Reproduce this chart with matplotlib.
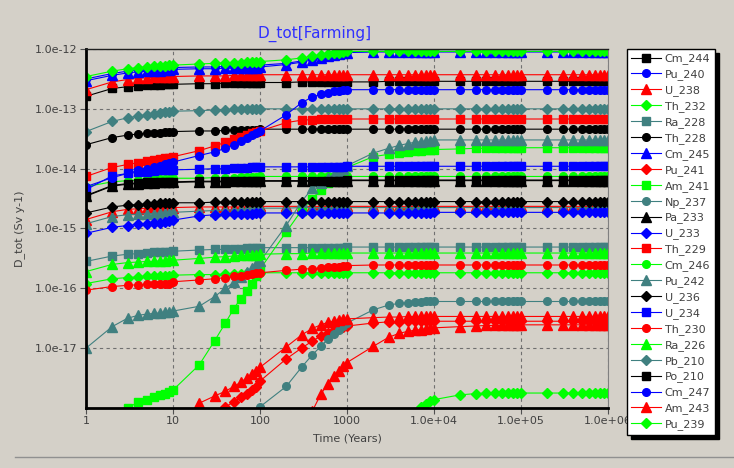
#D_tot[Farming] dose curves per nuclide vs time
import numpy as np
import matplotlib
matplotlib.use("Agg")
import matplotlib.pyplot as plt

# time grid (years), 9 points per decade
t_years = [1, 2, 3, 4, 5, 6, 7, 8, 9,
           10, 20, 30, 40, 50, 60, 70, 80, 90,
           100, 200, 300, 400, 500, 600, 700, 800, 900,
           1e3, 2e3, 3e3, 4e3, 5e3, 6e3, 7e3, 8e3, 9e3,
           1e4, 2e4, 3e4, 4e4, 5e4, 6e4, 7e4, 8e4, 9e4,
           1e5, 2e5, 3e5, 4e5, 5e5, 6e5, 7e5, 8e5, 9e5,
           1e6]

# log10 of D_tot (Sv/y)
cm_244 = [-12.79, -12.66, -12.63, -12.62, -12.61, -12.60, -12.60, -12.59, -12.59,
          -12.59, -12.58, -12.58, -12.57, -12.57, -12.57, -12.57, -12.56, -12.56,
          -12.56, -12.56, -12.55, -12.55, -12.55, -12.55, -12.55, -12.55, -12.55,
          -12.55, -12.55, -12.54, -12.54, -12.54, -12.54, -12.54, -12.54, -12.54,
          -12.54, -12.54, -12.54, -12.54, -12.54, -12.54, -12.54, -12.54, -12.54,
          -12.54, -12.54, -12.54, -12.54, -12.54, -12.54, -12.54, -12.54, -12.54,
          -12.54]
pu_240 = [-12.50, -12.41, -12.37, -12.35, -12.34, -12.33, -12.33, -12.32, -12.32,
          -12.31, -12.30, -12.30, -12.29, -12.29, -12.29, -12.28, -12.28, -12.28,
          -12.27, -12.24, -12.20, -12.16, -12.13, -12.11, -12.09, -12.07, -12.06,
          -12.05, -12.04, -12.04, -12.04, -12.04, -12.04, -12.04, -12.04, -12.04,
          -12.04, -12.04, -12.04, -12.04, -12.04, -12.04, -12.04, -12.04, -12.04,
          -12.04, -12.04, -12.04, -12.04, -12.04, -12.04, -12.04, -12.04, -12.04,
          -12.04]
u_238 = [-12.68, -12.55, -12.51, -12.49, -12.48, -12.47, -12.47, -12.46, -12.46,
         -12.46, -12.45, -12.45, -12.45, -12.44, -12.44, -12.44, -12.44, -12.44,
         -12.43, -12.43, -12.43, -12.43, -12.43, -12.43, -12.43, -12.43, -12.43,
         -12.43, -12.43, -12.43, -12.43, -12.43, -12.43, -12.43, -12.43, -12.43,
         -12.43, -12.43, -12.43, -12.43, -12.43, -12.43, -12.43, -12.43, -12.43,
         -12.43, -12.43, -12.43, -12.43, -12.43, -12.43, -12.43, -12.43, -12.43,
         -12.43]
th_232 = [-15.92, -15.84, -15.82, -15.81, -15.80, -15.80, -15.79, -15.79, -15.79,
          -15.78, -15.77, -15.77, -15.76, -15.76, -15.76, -15.75, -15.75, -15.75,
          -15.74, -15.74, -15.74, -15.74, -15.74, -15.74, -15.74, -15.74, -15.74,
          -15.74, -15.74, -15.74, -15.74, -15.74, -15.74, -15.74, -15.74, -15.74,
          -15.74, -15.74, -15.74, -15.74, -15.74, -15.74, -15.74, -15.74, -15.74,
          -15.74, -15.74, -15.74, -15.74, -15.74, -15.74, -15.74, -15.74, -15.74,
          -15.74]
ra_228 = [-15.55, -15.46, -15.43, -15.42, -15.41, -15.40, -15.40, -15.39, -15.39,
          -15.38, -15.36, -15.35, -15.35, -15.34, -15.34, -15.33, -15.33, -15.33,
          -15.32, -15.32, -15.32, -15.32, -15.32, -15.32, -15.32, -15.32, -15.32,
          -15.31, -15.31, -15.31, -15.31, -15.31, -15.31, -15.31, -15.31, -15.31,
          -15.31, -15.31, -15.31, -15.31, -15.31, -15.31, -15.31, -15.31, -15.31,
          -15.31, -15.31, -15.31, -15.31, -15.31, -15.31, -15.31, -15.31, -15.31,
          -15.31]
th_228 = [-13.60, -13.48, -13.44, -13.42, -13.41, -13.40, -13.40, -13.39, -13.39,
          -13.38, -13.37, -13.37, -13.36, -13.36, -13.36, -13.35, -13.35, -13.35,
          -13.34, -13.34, -13.34, -13.34, -13.34, -13.34, -13.34, -13.34, -13.34,
          -13.34, -13.34, -13.34, -13.34, -13.34, -13.34, -13.34, -13.34, -13.34,
          -13.34, -13.34, -13.34, -13.34, -13.34, -13.34, -13.34, -13.34, -13.34,
          -13.34, -13.34, -13.34, -13.34, -13.34, -13.34, -13.34, -13.34, -13.34,
          -13.34]
cm_245 = [-12.53, -12.44, -12.40, -12.38, -12.37, -12.36, -12.36, -12.35, -12.35,
          -12.34, -12.33, -12.33, -12.32, -12.32, -12.32, -12.31, -12.31, -12.31,
          -12.30, -12.26, -12.22, -12.18, -12.15, -12.12, -12.10, -12.08, -12.07,
          -12.06, -12.05, -12.05, -12.05, -12.05, -12.05, -12.05, -12.05, -12.05,
          -12.05, -12.05, -12.05, -12.05, -12.05, -12.05, -12.05, -12.05, -12.05,
          -12.05, -12.05, -12.05, -12.05, -12.05, -12.05, -12.05, -12.05, -12.05,
          -12.05]
pu_241 = [-21.60, -21.20, -21.00, -20.80, -20.70, -20.60, -20.50, -20.40, -20.30,
          -19.80, -18.70, -18.25, -17.98, -17.90, -17.82, -17.76, -17.70, -17.65,
          -17.55, -17.18, -17.00, -16.88, -16.80, -16.74, -16.70, -16.67, -16.65,
          -16.63, -16.58, -16.56, -16.56, -16.55, -16.55, -16.55, -16.55, -16.55,
          -16.55, -16.55, -16.55, -16.55, -16.55, -16.55, -16.55, -16.55, -16.55,
          -16.55, -16.55, -16.55, -16.55, -16.55, -16.55, -16.55, -16.55, -16.55,
          -16.55]
am_241 = [-19.20, -18.50, -18.00, -17.90, -17.86, -17.82, -17.79, -17.76, -17.73,
          -17.70, -17.28, -16.88, -16.58, -16.34, -16.17, -16.04, -15.92, -15.80,
          -15.68, -15.06, -14.70, -14.50, -14.35, -14.24, -14.15, -14.08, -14.03,
          -13.98, -13.80, -13.76, -13.74, -13.72, -13.71, -13.70, -13.69, -13.69,
          -13.68, -13.67, -13.66, -13.66, -13.65, -13.65, -13.65, -13.65, -13.65,
          -13.65, -13.65, -13.65, -13.65, -13.65, -13.65, -13.65, -13.65, -13.65,
          -13.65]
np_237 = [-21.00, -20.60, -20.40, -20.30, -20.20, -20.10, -20.00, -19.90, -19.80,
          -19.60, -19.20, -18.90, -18.70, -18.55, -18.40, -18.30, -18.20, -18.10,
          -17.98, -17.64, -17.32, -17.11, -16.97, -16.85, -16.76, -16.69, -16.63,
          -16.58, -16.36, -16.28, -16.25, -16.24, -16.23, -16.23, -16.22, -16.22,
          -16.22, -16.22, -16.22, -16.22, -16.22, -16.22, -16.22, -16.22, -16.22,
          -16.22, -16.22, -16.22, -16.22, -16.22, -16.22, -16.22, -16.22, -16.22,
          -16.22]
pa_233 = [-14.46, -14.29, -14.26, -14.25, -14.24, -14.24, -14.23, -14.23, -14.23,
          -14.23, -14.22, -14.22, -14.22, -14.21, -14.21, -14.21, -14.21, -14.21,
          -14.21, -14.21, -14.21, -14.21, -14.21, -14.21, -14.21, -14.21, -14.21,
          -14.20, -14.20, -14.20, -14.20, -14.20, -14.20, -14.20, -14.20, -14.20,
          -14.20, -14.20, -14.20, -14.20, -14.20, -14.20, -14.20, -14.20, -14.20,
          -14.20, -14.20, -14.20, -14.20, -14.20, -14.20, -14.20, -14.20, -14.20,
          -14.20]
u_233 = [-15.08, -14.98, -14.95, -14.93, -14.92, -14.91, -14.90, -14.89, -14.88,
         -14.86, -14.79, -14.77, -14.76, -14.76, -14.75, -14.75, -14.75, -14.74,
         -14.74, -14.74, -14.74, -14.74, -14.74, -14.74, -14.74, -14.74, -14.74,
         -14.74, -14.74, -14.74, -14.74, -14.74, -14.74, -14.74, -14.74, -14.74,
         -14.73, -14.73, -14.73, -14.73, -14.73, -14.73, -14.73, -14.73, -14.73,
         -14.73, -14.73, -14.73, -14.73, -14.73, -14.73, -14.73, -14.73, -14.73,
         -14.73]
th_229 = [-14.13, -13.98, -13.93, -13.90, -13.88, -13.86, -13.84, -13.83, -13.82,
          -13.80, -13.70, -13.62, -13.56, -13.51, -13.47, -13.44, -13.41, -13.39,
          -13.37, -13.23, -13.19, -13.18, -13.17, -13.17, -13.17, -13.17, -13.17,
          -13.17, -13.17, -13.17, -13.17, -13.17, -13.17, -13.17, -13.17, -13.17,
          -13.17, -13.17, -13.17, -13.17, -13.17, -13.17, -13.17, -13.17, -13.17,
          -13.17, -13.17, -13.17, -13.17, -13.17, -13.17, -13.17, -13.17, -13.17,
          -13.17]
cm_246 = [-14.30, -14.22, -14.20, -14.19, -14.18, -14.18, -14.17, -14.17, -14.17,
          -14.16, -14.16, -14.15, -14.15, -14.15, -14.14, -14.14, -14.14, -14.14,
          -14.13, -14.13, -14.13, -14.13, -14.13, -14.13, -14.13, -14.13, -14.13,
          -14.13, -14.13, -14.13, -14.13, -14.13, -14.13, -14.13, -14.13, -14.13,
          -14.13, -14.13, -14.13, -14.13, -14.13, -14.13, -14.13, -14.13, -14.13,
          -14.13, -14.13, -14.13, -14.13, -14.13, -14.13, -14.13, -14.13, -14.13,
          -14.13]
pu_242 = [-17.00, -16.64, -16.50, -16.45, -16.43, -16.42, -16.41, -16.40, -16.39,
          -16.38, -16.30, -16.14, -16.00, -15.90, -15.81, -15.73, -15.66, -15.60,
          -15.55, -14.95, -14.55, -14.33, -14.24, -14.16, -14.10, -14.05, -14.00,
          -13.95, -13.74, -13.66, -13.61, -13.58, -13.56, -13.55, -13.54, -13.53,
          -13.52, -13.52, -13.52, -13.52, -13.52, -13.52, -13.52, -13.52, -13.52,
          -13.52, -13.52, -13.52, -13.52, -13.52, -13.52, -13.52, -13.52, -13.52,
          -13.52]
u_236 = [-14.74, -14.64, -14.61, -14.60, -14.59, -14.59, -14.58, -14.58, -14.58,
         -14.57, -14.57, -14.56, -14.56, -14.56, -14.56, -14.56, -14.56, -14.56,
         -14.55, -14.55, -14.55, -14.55, -14.55, -14.55, -14.55, -14.55, -14.55,
         -14.55, -14.55, -14.55, -14.55, -14.55, -14.55, -14.55, -14.55, -14.55,
         -14.55, -14.55, -14.55, -14.55, -14.55, -14.55, -14.55, -14.55, -14.55,
         -14.55, -14.55, -14.55, -14.55, -14.55, -14.55, -14.55, -14.55, -14.55,
         -14.55]
u_234 = [-14.35, -14.12, -14.08, -14.06, -14.05, -14.04, -14.03, -14.03, -14.02,
         -14.02, -14.01, -14.00, -14.00, -13.99, -13.99, -13.99, -13.98, -13.98,
         -13.97, -13.97, -13.97, -13.97, -13.97, -13.97, -13.97, -13.97, -13.97,
         -13.96, -13.96, -13.96, -13.96, -13.96, -13.96, -13.96, -13.96, -13.96,
         -13.96, -13.96, -13.96, -13.96, -13.96, -13.96, -13.96, -13.96, -13.96,
         -13.96, -13.96, -13.96, -13.96, -13.96, -13.96, -13.96, -13.96, -13.96,
         -13.96]
th_230 = [-16.03, -15.97, -15.95, -15.94, -15.93, -15.93, -15.92, -15.92, -15.92,
          -15.89, -15.86, -15.84, -15.82, -15.80, -15.79, -15.77, -15.76, -15.75,
          -15.74, -15.70, -15.68, -15.67, -15.66, -15.65, -15.64, -15.64, -15.63,
          -15.62, -15.61, -15.61, -15.61, -15.61, -15.61, -15.61, -15.61, -15.61,
          -15.61, -15.61, -15.61, -15.61, -15.61, -15.61, -15.61, -15.61, -15.61,
          -15.61, -15.61, -15.61, -15.61, -15.61, -15.61, -15.61, -15.61, -15.61,
          -15.61]
ra_226 = [-15.72, -15.60, -15.57, -15.56, -15.55, -15.55, -15.54, -15.54, -15.53,
          -15.53, -15.50, -15.48, -15.47, -15.46, -15.45, -15.45, -15.44, -15.44,
          -15.43, -15.42, -15.42, -15.41, -15.41, -15.41, -15.41, -15.41, -15.41,
          -15.41, -15.41, -15.41, -15.41, -15.41, -15.41, -15.41, -15.41, -15.41,
          -15.41, -15.41, -15.41, -15.41, -15.41, -15.41, -15.41, -15.41, -15.41,
          -15.41, -15.41, -15.41, -15.41, -15.41, -15.41, -15.41, -15.41, -15.41,
          -15.41]
pb_210 = [-13.38, -13.21, -13.15, -13.12, -13.10, -13.08, -13.07, -13.06, -13.05,
          -13.04, -13.03, -13.02, -13.02, -13.01, -13.01, -13.01, -13.01, -13.00,
          -13.00, -13.00, -13.00, -13.00, -13.00, -13.00, -13.00, -13.00, -13.00,
          -13.00, -13.00, -13.00, -13.00, -13.00, -13.00, -13.00, -13.00, -13.00,
          -13.00, -13.00, -13.00, -13.00, -13.00, -13.00, -13.00, -13.00, -13.00,
          -13.00, -13.00, -13.00, -13.00, -13.00, -13.00, -13.00, -13.00, -13.00,
          -13.00]
po_210 = [-14.45, -14.28, -14.25, -14.24, -14.23, -14.23, -14.22, -14.22, -14.22,
          -14.22, -14.21, -14.21, -14.21, -14.20, -14.20, -14.20, -14.20, -14.20,
          -14.20, -14.20, -14.20, -14.20, -14.20, -14.20, -14.20, -14.20, -14.20,
          -14.19, -14.19, -14.19, -14.19, -14.19, -14.19, -14.19, -14.19, -14.19,
          -14.19, -14.19, -14.19, -14.19, -14.19, -14.19, -14.19, -14.19, -14.19,
          -14.19, -14.19, -14.19, -14.19, -14.19, -14.19, -14.19, -14.19, -14.19,
          -14.19]
cm_247 = [-14.30, -14.15, -14.08, -14.03, -14.00, -13.97, -13.95, -13.93, -13.91,
          -13.89, -13.78, -13.72, -13.66, -13.60, -13.54, -13.49, -13.44, -13.40,
          -13.37, -13.10, -12.90, -12.80, -12.76, -12.73, -12.71, -12.70, -12.69,
          -12.68, -12.68, -12.68, -12.68, -12.68, -12.68, -12.68, -12.68, -12.68,
          -12.68, -12.68, -12.68, -12.68, -12.68, -12.68, -12.68, -12.68, -12.68,
          -12.68, -12.68, -12.68, -12.68, -12.68, -12.68, -12.68, -12.68, -12.68,
          -12.68]
am_243 = [-21.00, -20.70, -20.50, -20.30, -20.20, -20.10, -20.00, -19.90, -19.80,
          -18.40, -17.92, -17.80, -17.72, -17.64, -17.57, -17.50, -17.44, -17.38,
          -17.32, -16.98, -16.78, -16.67, -16.61, -16.57, -16.55, -16.53, -16.52,
          -16.51, -16.49, -16.48, -16.48, -16.47, -16.47, -16.47, -16.47, -16.47,
          -16.47, -16.47, -16.47, -16.47, -16.47, -16.47, -16.47, -16.47, -16.47,
          -16.47, -16.47, -16.47, -16.47, -16.47, -16.47, -16.47, -16.47, -16.47,
          -16.47]
pu_239 = [-12.46, -12.37, -12.33, -12.31, -12.30, -12.29, -12.28, -12.28, -12.27,
          -12.27, -12.25, -12.24, -12.24, -12.23, -12.23, -12.22, -12.22, -12.22,
          -12.21, -12.18, -12.15, -12.12, -12.10, -12.08, -12.07, -12.06, -12.05,
          -12.04, -12.04, -12.04, -12.04, -12.04, -12.04, -12.04, -12.04, -12.04,
          -12.04, -12.04, -12.04, -12.04, -12.04, -12.04, -12.04, -12.04, -12.04,
          -12.04, -12.04, -12.04, -12.04, -12.04, -12.04, -12.04, -12.04, -12.04,
          -12.04]

# curves visible in the plot that have no entry in the legend box
extra_red = [-14.85, -14.72, -14.68, -14.67, -14.66, -14.66, -14.65, -14.65, -14.65,
             -14.65, -14.64, -14.64, -14.64, -14.64, -14.64, -14.64, -14.64, -14.64,
             -14.63, -14.63, -14.63, -14.63, -14.63, -14.63, -14.63, -14.63, -14.63,
             -14.63, -14.63, -14.63, -14.63, -14.63, -14.63, -14.63, -14.63, -14.63,
             -14.63, -14.63, -14.63, -14.63, -14.63, -14.63, -14.63, -14.63, -14.63,
             -14.63, -14.63, -14.63, -14.63, -14.63, -14.63, -14.63, -14.63, -14.63,
             -14.63]
extra_teal = [-14.92, -14.80, -14.77, -14.76, -14.75, -14.75, -14.74, -14.74, -14.74,
              -14.73, -14.71, -14.70, -14.69, -14.69, -14.68, -14.68, -14.68, -14.67,
              -14.66, -14.66, -14.65, -14.65, -14.65, -14.65, -14.65, -14.65, -14.65,
              -14.65, -14.65, -14.65, -14.65, -14.65, -14.65, -14.65, -14.65, -14.65,
              -14.65, -14.65, -14.65, -14.65, -14.65, -14.65, -14.65, -14.65, -14.65,
              -14.65, -14.65, -14.65, -14.65, -14.65, -14.65, -14.65, -14.65, -14.65,
              -14.65]
extra_red_low = [-24.00, -23.60, -23.40, -23.20, -23.10, -23.00, -22.90, -22.80, -22.70,
                 -22.50, -21.80, -21.40, -21.10, -20.90, -20.70, -20.60, -20.50, -20.40,
                 -20.00, -19.20, -18.60, -18.05, -17.77, -17.60, -17.47, -17.38, -17.30,
                 -17.24, -16.97, -16.82, -16.75, -16.72, -16.70, -16.69, -16.68, -16.67,
                 -16.66, -16.64, -16.63, -16.62, -16.62, -16.62, -16.61, -16.61, -16.61,
                 -16.61, -16.61, -16.61, -16.61, -16.61, -16.61, -16.61, -16.61, -16.61,
                 -16.61]
extra_green_low = [-25.00, -24.60, -24.40, -24.20, -24.10, -24.00, -23.90, -23.80, -23.70,
                   -23.50, -22.80, -22.40, -22.10, -21.90, -21.70, -21.60, -21.50, -21.40,
                   -21.00, -20.50, -20.20, -20.00, -19.90, -19.80, -19.70, -19.65, -19.60,
                   -19.50, -19.00, -18.70, -18.45, -18.25, -18.08, -17.98, -17.93, -17.89,
                   -17.86, -17.78, -17.76, -17.75, -17.75, -17.75, -17.75, -17.75, -17.75,
                   -17.75, -17.75, -17.75, -17.75, -17.75, -17.75, -17.75, -17.75, -17.75,
                   -17.75]

names = ["Cm_244", "Pu_240", "U_238", "Th_232", "Ra_228", "Th_228", "Cm_245", "Pu_241",
         "Am_241", "Np_237", "Pa_233", "U_233", "Th_229", "Cm_246", "Pu_242", "U_236",
         "U_234", "Th_230", "Ra_226", "Pb_210", "Po_210", "Cm_247", "Am_243", "Pu_239"]
series = [cm_244, pu_240, u_238, th_232, ra_228, th_228, cm_245, pu_241,
          am_241, np_237, pa_233, u_233, th_229, cm_246, pu_242, u_236,
          u_234, th_230, ra_226, pb_210, po_210, cm_247, am_243, pu_239]

xticks = [1, 10, 100, 1000, 1e4, 1e5, 1e6]
xtick_labels = ["1", "10", "100", "1000", "1.0e+04", "1.0e+05", "1.0e+06"]
yticks = [1e-17, 1e-16, 1e-15, 1e-14, 1e-13, 1e-12]
ytick_labels = ["1.0e-17", "1.0e-16", "1.0e-15", "1.0e-14", "1.0e-13", "1.0e-12"]

colors = ['#000000', '#0000ff', '#ff0000', '#00ff00', '#408080']
markers = ['s', 'o', '^', 'D']
msizes = {'s': 6, 'o': 5.5, '^': 6.5, 'D': 4.8}
bg = '#d4d0c8'

plt.rcParams['font.family'] = ['DejaVu Sans']

fig = plt.figure(figsize=(7.34, 4.68), dpi=100, facecolor=bg)
ax = fig.add_axes([86 / 734, 60 / 468, 522 / 734, 359 / 468])
ax.set_facecolor(bg)

t = np.array(t_years)

# unlabeled curves underneath
for vals, col, mk in [(extra_red, colors[2], '^'), (extra_teal, colors[4], '^'),
                      (extra_red_low, colors[2], '^'), (extra_green_low, colors[3], 'D')]:
    ax.plot(t, 10.0 ** np.array(vals), color=col, marker=mk, markersize=msizes[mk],
            linewidth=0.8, label='_nolegend_')

handles = []
for ids, (name, vals) in enumerate(zip(names, series)):
    mk = markers[ids % 4]
    ln, = ax.plot(t, 10.0 ** np.array(vals), color=colors[ids % 5], marker=mk,
                  markersize=msizes[mk], linewidth=0.8, label=name)
    handles.append(ln)

ax.set_xscale('log')
ax.set_yscale('log')
ax.set_xlim(1, 1e6)
ax.set_ylim(1e-18, 1e-12)
ax.set_xticks(xticks)
ax.set_xticklabels(xtick_labels)
ax.set_yticks(yticks)
ax.set_yticklabels(ytick_labels)
ax.minorticks_off()
ax.tick_params(axis='both', length=4, width=0.8, color='#505050', labelsize=8,
               labelcolor='#404040', pad=2)
ax.grid(True, color='#707070', linestyle=(0, (3, 3)), linewidth=0.8)

for side in ['left', 'bottom']:
    ax.spines[side].set_linewidth(2)
    ax.spines[side].set_color('black')
ax.spines['top'].set_linewidth(1)
ax.spines['top'].set_color('#202020')
ax.spines['right'].set_linewidth(0.8)
ax.spines['right'].set_color('#808080')

ax.set_ylabel("D_tot (Sv y-1)", fontsize=8, color='#404040')
ax.yaxis.set_label_coords(-0.117, 0.5)
ax.set_xlabel("Time (Years)", fontsize=8, color='#404040')
ax.xaxis.set_label_coords(0.5, -0.072)

fig.text(315 / 734, 1 - 34 / 468, "D_tot[Farming]", color='#3030ff', fontsize=11,
         ha='center', va='center')

leg = ax.legend(handles, names, loc='upper left', bbox_to_anchor=(627 / 734, 1 - 49 / 468),
                bbox_transform=fig.transFigure, borderaxespad=0, fancybox=False,
                shadow={'ox': 3, 'oy': -3, 'color': 'black', 'alpha': 1},
                fontsize=8, labelspacing=0.45, handlelength=2.7, handletextpad=0.3,
                borderpad=0.4, facecolor='white', edgecolor='black', framealpha=1)
leg.get_frame().set_linewidth(1.0)
for txt in leg.get_texts():
    txt.set_color('#404040')

# window border line at the bottom
fig.add_artist(plt.Line2D([0.02, 1], [1 - 457 / 468] * 2, color='#909090', linewidth=1))

plt.savefig("out.png", dpi=100, facecolor=bg)
